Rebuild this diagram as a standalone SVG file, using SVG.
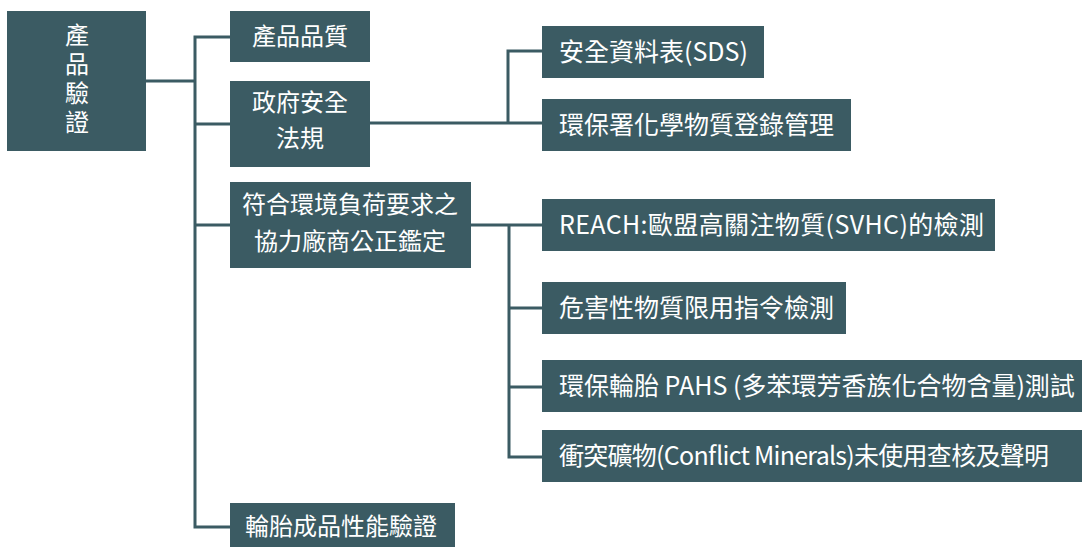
<svg xmlns="http://www.w3.org/2000/svg" width="1082" height="547" viewBox="0 0 1082 547">
<style>
.box{fill:#3b5b63}
.t{fill:#ffffff;font-family:"Noto Sans CJK TC","Noto Sans CJK SC",sans-serif;font-size:24px}
.c{text-anchor:middle}
.s{font-size:25px}
.v{writing-mode:vertical-rl;letter-spacing:5px}
.ln{stroke:#3b5b63;stroke-width:3;fill:none}
</style>
<rect width="1082" height="547" fill="#ffffff"/>
<g id="connectors">
<path class="ln" d="M146,81 H195"/>
<path class="ln" d="M230,37 H195 V527 H230"/>
<path class="ln" d="M195,124 H230"/>
<path class="ln" d="M195,225 H230"/>
<path class="ln" d="M370,123 H542"/>
<path class="ln" d="M542,51 H508 V123"/>
<path class="ln" d="M471,225 H542"/>
<path class="ln" d="M509,225 V457 H542"/>
<path class="ln" d="M509,308 H542"/>
<path class="ln" d="M509,387 H542"/>
</g>
<g id="root">
<rect class="box" x="7" y="11" width="139" height="140"/>
<text class="t v" x="77" y="23">產品驗證</text>
</g>
<g id="n-quality">
<rect class="box" x="230" y="11" width="140" height="51"/>
<text class="t c" x="300" y="45">產品品質</text>
</g>
<g id="n-gov">
<rect class="box" x="230" y="81" width="140" height="86"/>
<text class="t c" x="300" y="111">政府安全</text>
<text class="t c" x="300" y="147">法規</text>
</g>
<g id="n-env">
<rect class="box" x="230" y="182" width="241" height="86"/>
<text class="t c" x="350" y="213">符合環境負荷要求之</text>
<text class="t c" x="350" y="250">協力廠商公正鑑定</text>
</g>
<g id="n-tire">
<rect class="box" x="230" y="503" width="225" height="50"/>
<text class="t c" x="341" y="535">輪胎成品性能驗證</text>
</g>
<g id="n-sds">
<rect class="box" x="542" y="26" width="222" height="52"/>
<text class="t s" x="559" y="61">安全資料表(SDS)</text>
</g>
<g id="n-epa">
<rect class="box" x="542" y="99" width="309" height="52"/>
<text class="t s" x="559" y="134">環保署化學物質登錄管理</text>
</g>
<g id="n-reach">
<rect class="box" x="542" y="199" width="453" height="52"/>
<text class="t s" x="559" y="234" textLength="425">REACH:歐盟高關注物質(SVHC)的檢測</text>
</g>
<g id="n-rohs">
<rect class="box" x="542" y="282" width="304" height="52"/>
<text class="t s" x="559" y="317">危害性物質限用指令檢測</text>
</g>
<g id="n-pahs">
<rect class="box" x="542" y="360" width="545" height="52"/>
<text class="t s" x="559" y="395">環保輪胎 PAHS (多苯環芳香族化合物含量)測試</text>
</g>
<g id="n-conflict">
<rect class="box" x="542" y="430" width="545" height="52"/>
<text class="t s" x="559" y="465" textLength="490">衝突礦物(Conflict Minerals)未使用查核及聲明</text>
</g>
</svg>
